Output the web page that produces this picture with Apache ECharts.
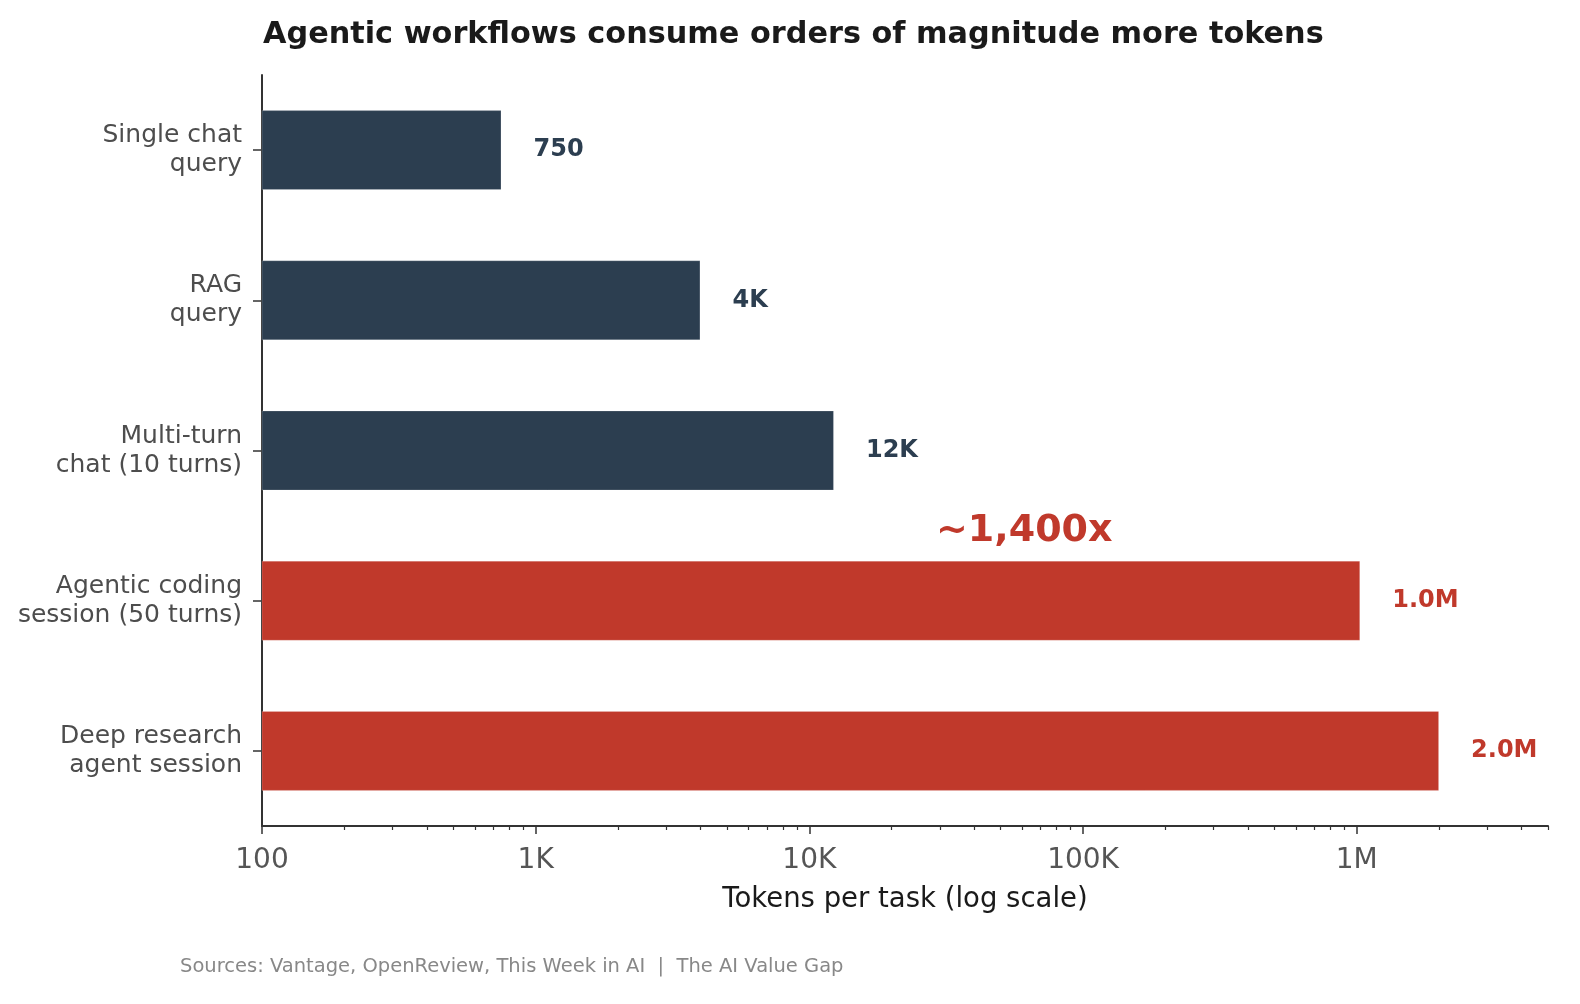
<!DOCTYPE html>
<html>
<head>
<meta charset="utf-8">
<title>Agentic workflows token usage</title>
<script src="https://cdn.jsdelivr.net/npm/echarts@6/dist/echarts.min.js"></script>
<style>
  html, body { margin: 0; padding: 0; background: #fff; }
  #main { width: 1580px; height: 1004px; }
</style>
</head>
<body>
<div id="main"></div>
<script>
// 数据
var categories = [
  'Single chat\nquery',
  'RAG\nquery',
  'Multi-turn\nchat (10 turns)',
  'Agentic coding\nsession (50 turns)',
  'Deep research\nagent session'
];
var tokens = [750, 4000, 12300, 1030000, 2000000];
var valueLabels = ['750', '4K', '12K', '1.0M', '2.0M'];
var isAgentic = [false, false, false, true, true];
var majorTicks = [100, 1000, 10000, 100000, 1000000];
var majorTickLabels = ['100', '1K', '10K', '100K', '1M'];

var DARK = '#2c3e50';
var RED = '#c0392b';
var FONT = '"DejaVu Sans", sans-serif';

// 次刻度 2..9 x 10^n
var minorTicks = [];
for (var e = 2; e <= 6; e++) {
  for (var k = 2; k <= 9; k++) {
    var v = k * Math.pow(10, e);
    if (v <= 5000000) minorTicks.push(v);
  }
}

var chart = echarts.init(document.getElementById('main'));

var barData = tokens.map(function (v, i) {
  var c = isAgentic[i] ? RED : DARK;
  return {
    value: v,
    itemStyle: { color: c, borderColor: 'rgba(255,255,255,0.18)', borderWidth: 1 },
    label: { color: c }
  };
});

var option = {
  animation: false,
  backgroundColor: '#fff',
  textStyle: { fontFamily: FONT },
  title: {
    text: 'Agentic workflows consume orders of magnitude more tokens',
    left: 258,
    top: 15,
    textStyle: { fontFamily: FONT, fontSize: 30.3, fontWeight: 'bold', color: '#1a1a1a' }
  },
  grid: { left: 262, right: 32, top: 75, bottom: 178, containLabel: false },
  xAxis: [
    {
      type: 'log',
      logBase: 10,
      min: 100,
      max: 5000000,
      name: 'Tokens per task (log scale)',
      nameLocation: 'middle',
      nameGap: 60,
      nameTextStyle: { fontFamily: FONT, fontSize: 27.5, color: '#1a1a1a' },
      axisLine: { show: true, lineStyle: { color: '#333', width: 2 } },
      axisTick: { show: true, length: 8, customValues: majorTicks, lineStyle: { color: '#333', width: 1.5 } },
      axisLabel: {
        customValues: majorTicks,
        margin: 21,
        fontFamily: FONT,
        fontSize: 28,
        color: '#555',
        formatter: function (val) {
          var idx = majorTicks.indexOf(val);
          return idx >= 0 ? majorTickLabels[idx] : '';
        }
      },
      splitLine: { show: false },
      minorTick: { show: false }
    },
    {
      type: 'log',
      logBase: 10,
      min: 100,
      max: 5000000,
      position: 'bottom',
      axisLine: { show: false },
      axisTick: { show: true, length: 4, customValues: minorTicks, lineStyle: { color: '#333', width: 1.2 } },
      axisLabel: { show: false },
      splitLine: { show: false }
    }
  ],
  yAxis: {
    type: 'category',
    inverse: true,
    data: categories,
    axisLine: { show: true, lineStyle: { color: '#333', width: 2 } },
    axisTick: { show: true, alignWithLabel: true, length: 9, lineStyle: { color: '#333', width: 1.5 } },
    axisLabel: {
      fontFamily: FONT,
      fontSize: 25,
      lineHeight: 29,
      color: '#4d4d4d',
      align: 'right',
      margin: 20
    },
    splitLine: { show: false }
  },
  series: [
    {
      type: 'bar',
      xAxisIndex: 0,
      barWidth: 80,
      clip: true,
      data: barData,
      label: {
        show: true,
        position: 'right',
        distance: 32,
        fontFamily: FONT,
        fontSize: 24,
        fontWeight: 'bold',
        formatter: function (p) { return valueLabels[p.dataIndex]; }
      }
    }
  ],
  graphic: [
    {
      type: 'text',
      left: 936,
      top: 512,
      style: {
        text: '~1,400x',
        fontFamily: FONT,
        fontSize: 38,
        fontWeight: 'bold',
        fill: RED
      }
    },
    {
      type: 'text',
      left: 180,
      top: 957,
      style: {
        text: 'Sources: Vantage, OpenReview, This Week in AI  |  The AI Value Gap',
        fontFamily: FONT,
        fontSize: 19.5,
        fill: '#888'
      }
    }
  ]
};

chart.setOption(option);
</script>
</body>
</html>
